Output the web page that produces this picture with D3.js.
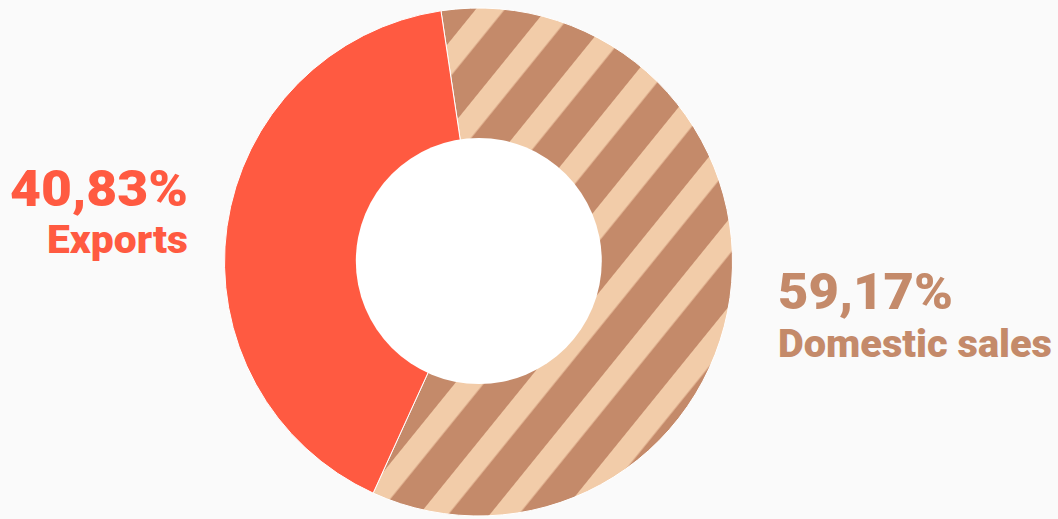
<!DOCTYPE html>
<html>
<head>
<meta charset="utf-8">
<script src="https://cdn.jsdelivr.net/npm/d3@7"></script>
<style>
  html, body { margin: 0; padding: 0; background: #fafafa; }
  svg { display: block; }
  text { font-family: Roboto, "DejaVu Sans", sans-serif; font-weight: 900; }
</style>
</head>
<body>
<svg id="chart" width="1058" height="519"></svg>
<script>
// ---- data ----
const categories = ["Domestic sales", "Exports"];
const values = [59.17, 40.83];
const percentLabels = ["59,17%", "40,83%"];
const colors = ["url(#stripes)", "#ff5a41"];
const textColors = ["#c48a6a", "#ff5a41"];

// ---- layout ----
const W = 1058, H = 519;
const cx = 478.5, cy = 262;
const outerR = 254, holeR = 123;
const startDeg = -8.5;

const svg = d3.select("#chart");
svg.append("rect").attr("width", W).attr("height", H).attr("fill", "#fafafa");

const defs = svg.append("defs");
const period = 54.8, lightW = 22.5;
const pat = defs.append("pattern")
  .attr("id", "stripes")
  .attr("patternUnits", "userSpaceOnUse")
  .attr("width", period).attr("height", period)
  .attr("patternTransform", "rotate(39) translate(3.3,0)");
pat.append("rect").attr("width", period).attr("height", period).attr("fill", "#c48a6a");
pat.append("rect").attr("x", 0).attr("width", lightW).attr("height", period).attr("fill", "#f2cca9");

const g = svg.append("g").attr("transform", `translate(${cx},${cy})`);

const pie = d3.pie().sort(null)
  .startAngle(startDeg * Math.PI / 180)
  .endAngle(startDeg * Math.PI / 180 + 2 * Math.PI);
const arc = d3.arc().innerRadius(0).outerRadius(outerR);

const arcs = pie(values);
g.selectAll("path.slice").data(arcs).enter().append("path")
  .attr("class", "slice")
  .attr("d", arc)
  .attr("fill", (d, i) => colors[i])
  .attr("stroke", "#ffffff")
  .attr("stroke-width", 1);

g.append("circle").attr("cx", 0.3).attr("cy", -1).attr("r", holeR).attr("fill", "#ffffff");

// ---- labels ----
const labelPos = [
  { x: 778, yPct: 309, yLab: 357, wPct: 175, wLab: 274, anchor: "start" },
  { x: 188, yPct: 206, yLab: 253, wPct: 178, wLab: 141, anchor: "end" }
];
categories.forEach((c, i) => {
  const p = labelPos[i];
  svg.append("text")
    .attr("x", p.x).attr("y", p.yPct)
    .attr("text-anchor", p.anchor)
    .attr("fill", textColors[i])
    .attr("font-size", 50)
    .attr("textLength", p.wPct)
    .attr("lengthAdjust", "spacingAndGlyphs")
    .text(percentLabels[i]);
  svg.append("text")
    .attr("x", p.x).attr("y", p.yLab)
    .attr("text-anchor", p.anchor)
    .attr("fill", textColors[i])
    .attr("font-size", 39)
    .attr("textLength", p.wLab)
    .attr("lengthAdjust", "spacingAndGlyphs")
    .text(c);
});
</script>
</body>
</html>
